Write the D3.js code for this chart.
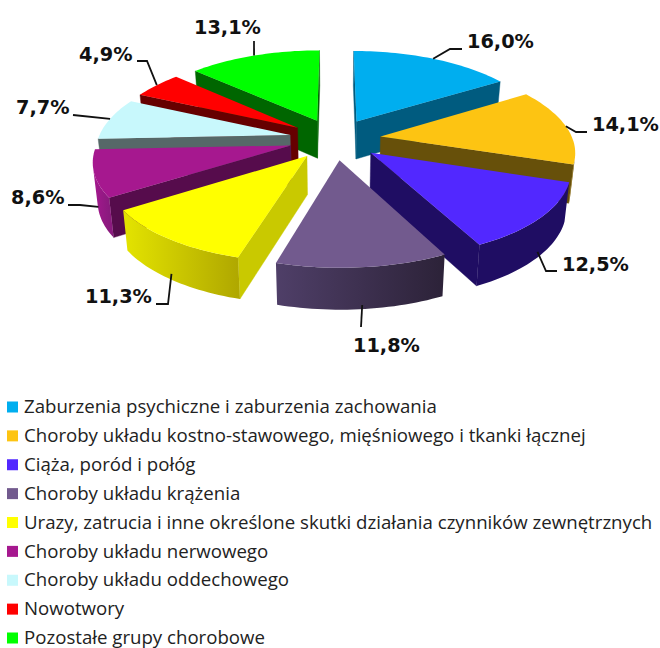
<!DOCTYPE html>
<html><head><meta charset="utf-8">
<style>html,body{margin:0;padding:0;background:#fff}svg{display:block}</style>
<script src="https://cdnjs.cloudflare.com/ajax/libs/d3/7.9.0/d3.min.js"></script>
</head><body><div id="c"></div>
<script>
const categories = ["Zaburzenia psychiczne i zaburzenia zachowania","Choroby układu kostno-stawowego, mięśniowego i tkanki łącznej","Ciąża, poród i połóg","Choroby układu krążenia","Urazy, zatrucia i inne określone skutki działania czynników zewnętrznych","Choroby układu nerwowego","Choroby układu oddechowego","Nowotwory","Pozostałe grupy chorobowe"];
const values = [16.0,14.1,12.5,11.8,11.3,8.6,7.7,4.9,13.1];
const valueLabels = ["16,0%","14,1%","12,5%","11,8%","11,3%","8,6%","7,7%","4,9%","13,1%"];
const topColors = ["#00AEEF","#FDC412","#5228FF","#725A8E","#FFFF00","#A6188F","#C8F8FC","#FF0000","#00FF00"];
const wallColors = ["#005B7F","#67500A","#1F0D63","#2C2238","#C9C900","#560C4C","#566868","#660000","#006600"];
const outerFrom = ["#005B7F","#67500A","#1F0D63","#2C2238","#B0A800","#8A1A7E","#566868","#660000","#006600"];
const outerTo = ["#005B7F","#8A6A10","#1F0D63","#4F3F68","#E4E400","#A6188F","#566868","#660000","#006600"];
// leader layout: depth fraction on the wall, elbow, end, label x, label centre y
const leaderDepth = [0,0,.85,.9,.85,.85,0,0,0];
const leaderElbow = [[450,49],[576,132],[546,271],null,[168,304],[80,205],null,[147,61],null];
const leaderEnd = [[462,49],[587,132],[557,271],[361,327],[156,304],[68,205],[73,115],[137,61],[254,41]];
const labelPos = [[467,41],[592,124],[562,264],[353,345],[85,296],[11,197],[16,107],[79,54],[194,27]];

const W=660,H=648,cx=335,cy=139,A=192,B=85.4,k=.144,kx=.155,explode=.24,D=38,taper=.98;
const svg=d3.select("#c").append("svg").attr("width",W).attr("height",H);
const defs=svg.append("defs");
const g=svg.append("g");
const pie=d3.pie().sort(null).value(d=>d)(values);
const project=(X,Y)=>{const w=1+k*Y;return [cx+A*X/(1+kx*Y),cy-B*Y/w,w];};
const lower=p=>[cx+(p[0]-cx)*taper,p[1]+D/Math.sqrt(p[2])];
const xy=d=>d.slice(0,2);
const line=d3.line();

const slices=pie.map((p,i)=>{
  const mid=(p.startAngle+p.endAngle)/2;
  const ox=explode*Math.sin(mid),oy=explode*Math.cos(mid);
  const pt=(t,r=1)=>project(ox+r*Math.sin(t),oy+r*Math.cos(t));
  return {i,p,mid,pt};
});
slices.sort((a,b)=>d3.descending(Math.cos(a.mid),Math.cos(b.mid)));
slices.forEach(s=>{
  const {i,p,pt}=s,sg=g.append("g");
  const n=Math.max(4,Math.ceil((p.endAngle-p.startAngle)/(1.5*Math.PI/180)));
  const ts=d3.range(n+1).map(j=>p.startAngle+(p.endAngle-p.startAngle)*j/n);
  const apex=pt(0,0),arc=ts.map(t=>pt(t));
  const quad=(a,b)=>[a,b,lower(b),lower(a)].map(xy);
  const wall=(a,b,fill)=>{
    const q=quad(a,b);
    if(d3.polygonArea(q)>0) sg.append("path").attr("d",line(q)+"Z").attr("fill",fill).attr("stroke",fill).attr("stroke-width",.4);
  };
  wall(apex,arc[0],wallColors[i]);
  wall(arc[n],apex,wallColors[i]);
  // outer curved wall: the front-facing run of the arc, shaded along its length
  const run=arc.filter((a,j)=>(j<n&&d3.polygonArea(quad(a,arc[j+1]))>0)||(j>0&&d3.polygonArea(quad(arc[j-1],a))>0));
  if(run.length>1){
    const id="outer"+i;
    const gr=defs.append("linearGradient").attr("id",id).attr("gradientUnits","userSpaceOnUse")
      .attr("x1",run[0][0]).attr("x2",run[run.length-1][0]).attr("y1",0).attr("y2",0);
    gr.append("stop").attr("offset",0).attr("stop-color",outerFrom[i]);
    gr.append("stop").attr("offset",1).attr("stop-color",outerTo[i]);
    const poly=[...run.map(xy),...run.slice().reverse().map(lower)];
    sg.append("path").attr("d",line(poly)+"Z").attr("fill",`url(#${id})`);
  }
  sg.append("path").attr("d",line([apex,...arc].map(xy))+"Z").attr("fill",topColors[i]);
});
// leaders + labels
const lg=svg.append("g");
slices.forEach(s=>{
  const i=s.i,a=s.pt(s.mid),lw=lower(a),f=leaderDepth[i];
  const start=[a[0]+(lw[0]-a[0])*f,a[1]+(lw[1]-a[1])*f];
  const pts=[start,leaderElbow[i],leaderEnd[i]].filter(Boolean);
  lg.append("path").attr("d",line(pts)).attr("fill","none").attr("stroke","#111").attr("stroke-width",1.8);
  lg.append("text").attr("x",labelPos[i][0]).attr("y",labelPos[i][1]).attr("dy",".36em")
    .attr("font-family","'DejaVu Sans'").attr("font-weight","bold").attr("font-size",19.3).attr("fill","#111").text(valueLabels[i]);
});
// legend
const y=d3.scalePoint().domain(categories).range([407,638]);
const lgd=svg.append("g").selectAll("g").data(categories).join("g").attr("transform",d=>`translate(0,${y(d)})`);
lgd.append("rect").attr("x",7).attr("y",-5.5).attr("width",11).attr("height",11).attr("fill",(d,i)=>topColors[i]);
lgd.append("text").attr("x",24).attr("dy",".33em").attr("font-family","'Open Sans'").attr("font-size",18.65).attr("fill","#222").text(d=>d);
</script></body></html>
